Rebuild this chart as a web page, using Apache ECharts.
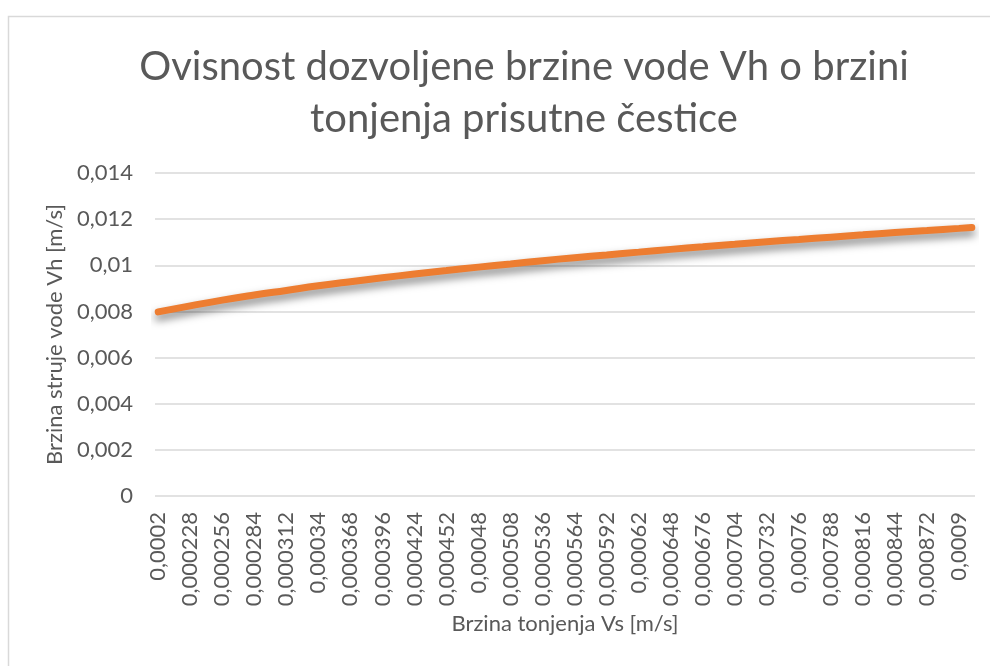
<!DOCTYPE html>
<html>
<head>
<meta charset="utf-8">
<script src="https://cdn.jsdelivr.net/npm/echarts@6/dist/echarts.min.js"></script>
<style>
  html, body { margin: 0; padding: 0; background: #fff; }
  #chart { width: 990px; height: 666px; }
</style>
</head>
<body>
<div id="chart"></div>
<script>
// x tick labels (Vs, m/s)
const vsTicks = [
    0.0002, 0.000228, 0.000256, 0.000284, 0.000312, 0.00034, 0.000368,
    0.000396, 0.000424, 0.000452, 0.00048, 0.000508, 0.000536, 0.000564,
    0.000592, 0.00062, 0.000648, 0.000676, 0.000704, 0.000732, 0.00076,
    0.000788, 0.000816, 0.000844, 0.000872, 0.0009
]
// points
const vsValues = [
    0.0002, 0.000228, 0.000256, 0.000284, 0.000312, 0.00034, 0.000368,
    0.000396, 0.000424, 0.000452, 0.00048, 0.000508, 0.000536, 0.000564,
    0.000592, 0.00062, 0.000648, 0.000676, 0.000704, 0.000732, 0.00076,
    0.000788, 0.000816, 0.000844, 0.000872, 0.0009, 0.0009112
]
const vhValues = [
    0.00798, 0.00824, 0.00849, 0.00871, 0.00891, 0.00911, 0.00929,
    0.00946, 0.00962, 0.00977, 0.00992, 0.01006, 0.01020, 0.01033,
    0.01045, 0.01057, 0.01069, 0.01080, 0.01091, 0.01102, 0.01112,
    0.01122, 0.01132, 0.01142, 0.01151, 0.01160, 0.01164
]

const comma = v => String(v).replace('.', ',')
const textColor = '#595959'
const font = 'Lato'

const myChart = echarts.init(document.getElementById('chart'))
const option = {
    animation: false,
    textStyle: { fontFamily: font },
    graphic: [{
        type: 'rect',
        shape: { x: 8.5, y: 16.5, width: 1000, height: 700 },
        style: { fill: 'none', stroke: '#d9d9d9', lineWidth: 1.5 },
        silent: true
    }],
    title: {
        text: 'Ovisnost dozvoljene brzine vode Vh o brzini\ntonjenja prisutne čestice',
        left: 519,
        top: 36,
        textAlign: 'center',
        textStyle: {
            fontFamily: font,
            fontWeight: 'normal',
            fontSize: 40,
            lineHeight: 52,
            color: textColor
        }
    },
    grid: {
        left: 155,
        right: 15,
        top: 173,
        bottom: 170
    },
    xAxis: {
        type: 'value',
        min: 0.0001972,
        max: 0.000914,
        name: 'Brzina tonjenja Vs [m/s]',
        nameLocation: 'middle',
        nameGap: 117,
        nameTextStyle: { fontSize: 22, color: textColor, fontFamily: font },
        axisLine: { show: false },
        axisTick: { show: false },
        splitLine: { show: false },
        axisLabel: {
            customValues: vsTicks,
            rotate: 90,
            margin: 16,
            fontSize: 22,
            color: textColor,
            formatter: comma
        }
    },
    yAxis: {
        type: 'value',
        min: 0,
        max: 0.014,
        interval: 0.002,
        name: 'Brzina struje vode Vh [m/s]',
        nameLocation: 'middle',
        nameGap: 86,
        nameTextStyle: { fontSize: 22, color: textColor, fontFamily: font },
        axisLine: { show: false },
        axisTick: { show: false },
        splitLine: { lineStyle: { color: '#d9d9d9', width: 1.5 } },
        axisLabel: {
            margin: 22,
            fontSize: 22,
            color: textColor,
            formatter: comma
        }
    },
    series: [{
        type: 'line',
        data: vsValues.map((x, i) => [x, vhValues[i]]),
        smooth: true,
        symbol: 'none',
        lineStyle: {
            color: '#ED7D31',
            width: 7,
            cap: 'round',
            shadowColor: 'rgba(0,0,0,0.5)',
            shadowBlur: 8,
            shadowOffsetY: 5
        }
    }]
}
myChart.setOption(option)
</script>
</body>
</html>
